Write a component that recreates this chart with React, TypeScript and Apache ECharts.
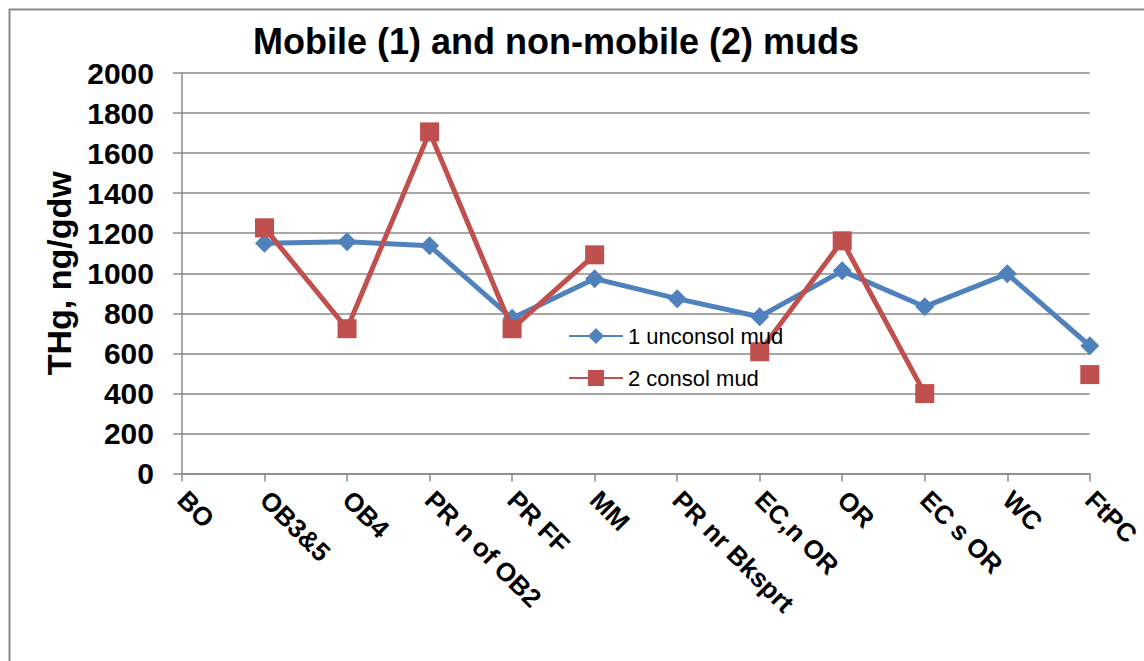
import React, { useEffect, useRef } from "react";
import * as echarts from "echarts";

const categories = [
  "BO",
  "OB3&5",
  "OB4",
  "PR n of OB2",
  "PR FF",
  "MM",
  "PR nr Bksprt",
  "EC,n OR",
  "OR",
  "EC s OR",
  "WC",
  "FtPC",
];
const unconsolMud: (number | null)[] = [null, 1150, 1157, 1137, 775, 973, 873, 783, 1012, 833, 997, 638];
const consolMud: (number | null)[] = [null, 1227, 723, 1706, 723, 1092, null, 608, 1162, 399, null, 494];
const seriesNames = ["1 unconsol mud", "2 consol mud"];
const titleText = "Mobile (1) and non-mobile (2) muds";
const yAxisName = "THg, ng/gdw";

export default function App() {
  const ref = useRef<HTMLDivElement>(null);
  useEffect(() => {
    if (!ref.current) return;
    const chart = echarts.init(ref.current, undefined, { renderer: "svg" });
    const font = "'Liberation Sans', Arial, sans-serif";
    chart.setOption({
      animation: false,
      backgroundColor: "#ffffff",
      title: {
        text: titleText,
        left: 253,
        top: 23,
        padding: 0,
        textStyle: { fontFamily: font, fontSize: 36, fontWeight: "bold", color: "#000" },
      },
      graphic: [
        {
          type: "rect",
          left: 7,
          top: 7,
          shape: { width: 1300, height: 800 },
          style: { fill: "none", stroke: "#8a8a8a", lineWidth: 2 },
          silent: true,
        },
      ],
      legend: {
        orient: "vertical",
        left: 568,
        top: 325,
        itemWidth: 54,
        itemHeight: 20,
        itemGap: 20,
        padding: 0,
        textStyle: { fontFamily: font, fontSize: 22, color: "#000" },
        data: seriesNames,
      },
      grid: { left: 182, right: 47, top: 73, bottom: 187.5, containLabel: false },
      xAxis: {
        type: "category",
        data: categories,
        boundaryGap: false,
        axisLine: { lineStyle: { color: "#8a8a8a", width: 1.5 } },
        axisTick: { show: true, length: 8, alignWithLabel: true, lineStyle: { color: "#8a8a8a", width: 1.5 } },
        axisLabel: {
          interval: 0,
          rotate: -45,
          margin: 22,
          fontFamily: font,
          fontSize: 26,
          fontWeight: "bold",
          color: "#000",
        },
        splitLine: { show: false },
      },
      yAxis: {
        type: "value",
        min: 0,
        max: 2000,
        interval: 200,
        name: yAxisName,
        nameLocation: "middle",
        nameGap: 99,
        nameTextStyle: { fontFamily: font, fontSize: 34, fontWeight: "bold", color: "#000" },
        axisLine: { show: true, lineStyle: { color: "#8a8a8a", width: 1.5 } },
        axisTick: { show: true, length: 9, lineStyle: { color: "#8a8a8a", width: 1.5 } },
        axisLabel: {
          margin: 28,
          fontFamily: font,
          fontSize: 30,
          fontWeight: "bold",
          color: "#000",
          formatter: (v: number) => String(v),
        },
        splitLine: { show: true, lineStyle: { color: "#8a8a8a", width: 1.5 } },
      },
      series: [
        {
          name: seriesNames[0],
          type: "line",
          data: unconsolMud,
          connectNulls: false,
          symbol: "diamond",
          symbolSize: 19,
          showSymbol: true,
          color: "#4F81BD",
          lineStyle: { width: 5, color: "#4F81BD" },
          itemStyle: { color: "#4F81BD" },
          z: 2,
        },
        {
          name: seriesNames[1],
          type: "line",
          data: consolMud,
          connectNulls: false,
          symbol: "rect",
          symbolSize: 19,
          showSymbol: true,
          color: "#C0504D",
          lineStyle: { width: 5, color: "#C0504D" },
          itemStyle: { color: "#C0504D" },
          z: 3,
        },
      ],
    });
    return () => chart.dispose();
  }, []);
  return (
    <div
      ref={ref}
      style={{ position: "absolute", left: 0, top: 0, width: 1144, height: 661, background: "#fff" }}
    />
  );
}
